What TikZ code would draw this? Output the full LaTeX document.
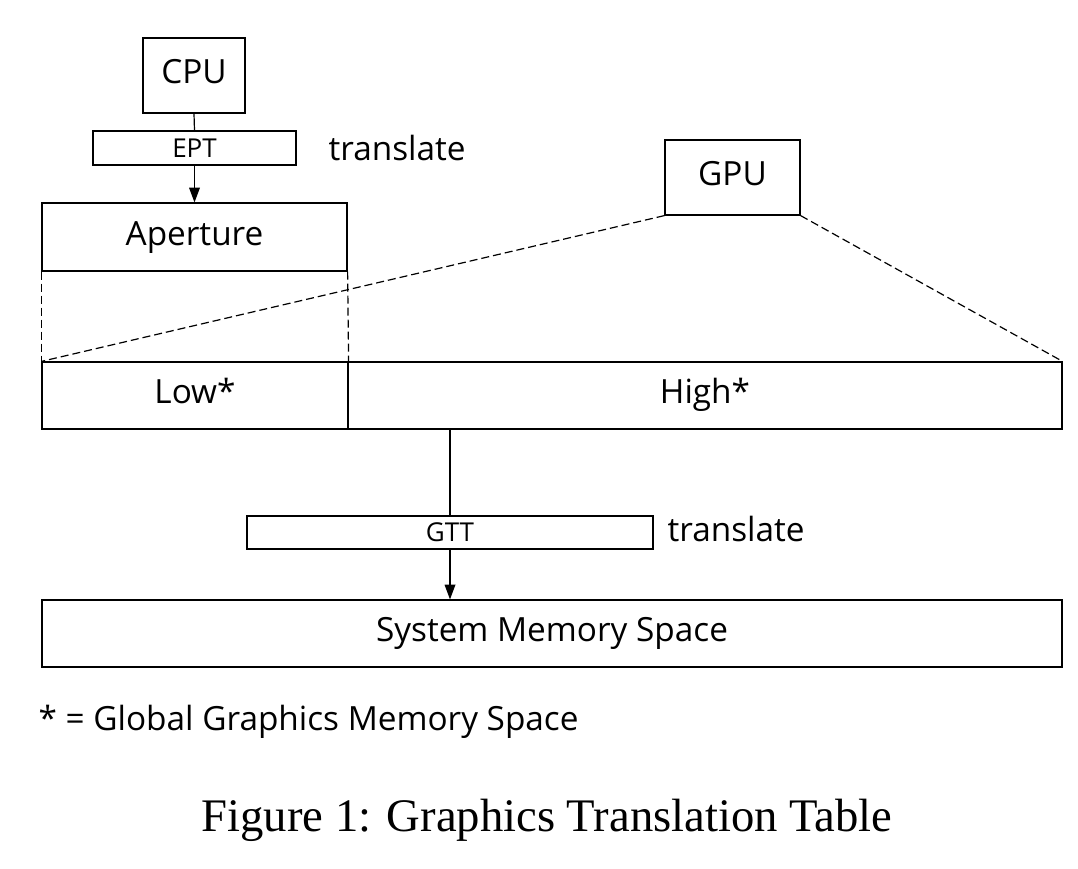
\documentclass[tikz,border=0pt]{standalone}
\usepackage{fontspec}
\usetikzlibrary{arrows.meta}
\setmainfont{Liberation Serif}
\newfontfamily\diag{Open Sans}
\begin{document}
\begin{tikzpicture}[x=0.75pt,y=-0.75pt,line width=0.9pt,
  bx/.style={draw,inner sep=0pt,text height=17pt,text depth=5pt,font=\diag\fontsize{25}{28}\selectfont},
  sbx/.style={draw,inner sep=0pt,font=\diag\fontsize{19.5}{22}\selectfont},
  lbl/.style={font=\diag\fontsize{25}{28}\selectfont,anchor=west,inner sep=0pt},
  dsh/.style={dashed,dash pattern=on 6pt off 3pt},
  arr/.style={-{Triangle[length=11pt,width=8pt]}}]
\useasboundingbox (0,0) rectangle (1078,868);
\node[bx,minimum width=102*0.75pt,minimum height=75*0.75pt] (cpu) at (194,75.5) {CPU};
\node[sbx,minimum width=203*0.75pt,minimum height=34*0.75pt] (ept) at (194.5,148) {EPT};
\node[bx,minimum width=305*0.75pt,minimum height=68*0.75pt] (ap) at (194.5,237) {Aperture};
\node[lbl] (t1) at (328,148) {translate};
\node[bx,minimum width=135*0.75pt,minimum height=75*0.75pt] (gpu) at (732.5,177.5) {GPU};
\node[bx,minimum width=306*0.75pt,minimum height=67*0.75pt] (low) at (195,395.5) {Low*};
\node[bx,minimum width=714*0.75pt,minimum height=67*0.75pt] (high) at (705,395.5) {High*};
\node[sbx,minimum width=406*0.75pt,minimum height=33*0.75pt] (gtt) at (450,532.5) {GTT};
\node[lbl] (t2) at (667,529) {translate};
\node[bx,minimum width=1020*0.75pt,minimum height=67*0.75pt] (sys) at (552,633.5) {System Memory Space};
\node[lbl] (note) at (38,722) {* = Global Graphics Memory Space};
\node[font=\fontsize{35}{38}\selectfont,inner sep=0pt] (cap) at (547,820) {Figure 1: Graphics Translation Table};
\draw (cpu.south) -- (ept.north);
\draw[arr] (ept.south) -- (ap.north);
\draw[dsh] (ap.south west) -- (low.north west);
\draw[dsh] (ap.south east) -- (low.north east);
\draw[dsh] (gpu.south west) -- (low.north west);
\draw[dsh] (gpu.south east) -- (high.north east);
\coordinate (hb) at (450,429);
\draw (hb) -- (gtt.north);
\draw[arr] (gtt.south) -- (gtt.south |- sys.north);
\end{tikzpicture}
\end{document}
